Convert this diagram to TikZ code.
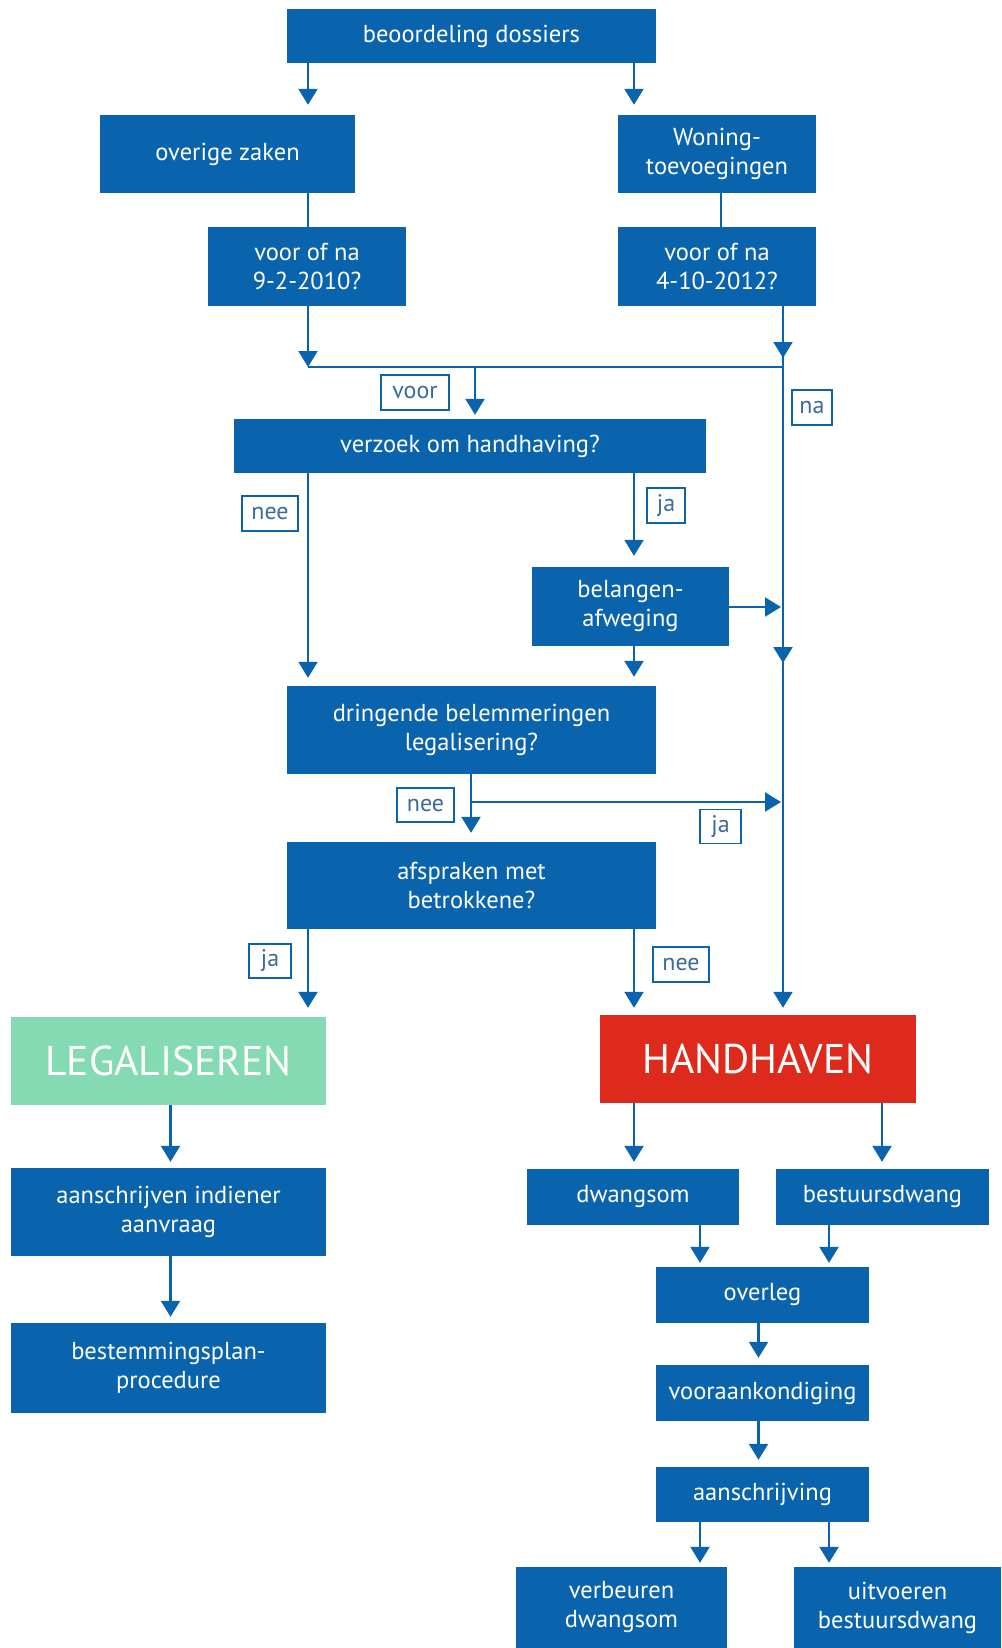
\documentclass[tikz,border=0pt]{standalone}
\usepackage{fontspec}
\setmainfont{PT Sans}
\usetikzlibrary{arrows.meta}
\definecolor{boxblue}{HTML}{0A64AD}
\definecolor{legal}{HTML}{84DAB2}
\definecolor{handred}{HTML}{DD2A1C}
\definecolor{lbltext}{HTML}{3A6A9E}
\tikzset{
  boxnode/.style={fill=boxblue, text=white, inner sep=0pt, align=center,
    font=\fontsize{24.5}{29}\selectfont},
  bignode/.style={inner sep=0pt, text=white, font=\fontsize{41.5}{44}\selectfont},
  lbl/.style={draw=boxblue, line width=1.4pt, fill=white, text=lbltext, inner sep=0pt,
    font=\fontsize{24}{28}\selectfont},
  conn/.style={draw=boxblue, line width=2.2pt},
  arr/.style={conn, -{Triangle[width=19pt,length=16pt]}},
}
\begin{document}
\begin{tikzpicture}[x=1pt,y=-1pt]
\useasboundingbox (0,0) rectangle (1001,1648);
\fill[white] (0,0) rectangle (1001,1648);
% boxes
\node[boxnode, minimum width=369pt, minimum height=54pt] (beo) at (471.5,36) {beoordeling dossiers};
\node[boxnode, minimum width=255pt, minimum height=78pt] (ovz) at (227.5,154) {overige zaken};
\node[boxnode, minimum width=198pt, minimum height=78pt] (won) at (717,154) {Woning-\\toevoegingen};
\node[boxnode, minimum width=198pt, minimum height=79pt] (v1) at (307,266.5) {voor of na\\9-2-2010?};
\node[boxnode, minimum width=198pt, minimum height=79pt] (v2) at (717,266.5) {voor of na\\4-10-2012?};
\node[boxnode, minimum width=472pt, minimum height=54pt] (verz) at (470,446) {verzoek om handhaving?};
\node[boxnode, minimum width=197pt, minimum height=79pt] (bel) at (630.5,606.5) {belangen-\\afweging};
\node[boxnode, minimum width=369pt, minimum height=88pt] (dri) at (471.5,730) {dringende belemmeringen\\legalisering?};
\node[boxnode, minimum width=369pt, minimum height=87pt] (afs) at (471.5,885.5) {afspraken met\\betrokkene?};
\node[bignode, fill=legal, minimum width=315pt, minimum height=88pt] (leg) at (168.5,1061) {LEGALISEREN};
\node[bignode, fill=handred, minimum width=316pt, minimum height=88pt] (han) at (758,1059) {HANDHAVEN};
\node[boxnode, minimum width=315pt, minimum height=88pt] (aan) at (168.5,1212) {aanschrijven indiener\\aanvraag};
\node[boxnode, minimum width=315pt, minimum height=90pt] (bes) at (168.5,1368) {bestemmingsplan-\\procedure};
\node[boxnode, minimum width=212pt, minimum height=56pt] (dwa) at (633,1197) {dwangsom};
\node[boxnode, minimum width=213pt, minimum height=56pt] (bst) at (882.5,1197) {bestuursdwang};
\node[boxnode, minimum width=213pt, minimum height=56pt] (ove) at (762.5,1295) {overleg};
\node[boxnode, minimum width=213pt, minimum height=56pt] (voo) at (762.5,1393) {vooraankondiging};
\node[boxnode, minimum width=213pt, minimum height=55pt] (aas) at (762.5,1494.5) {aanschrijving};
\node[boxnode, minimum width=211pt, minimum height=81pt] (ver) at (621.5,1607.5) {verbeuren\\dwangsom};
\node[boxnode, minimum width=207pt, minimum height=81pt] (uit) at (897.5,1607.5) {uitvoeren\\bestuursdwang};
% column coordinates
\coordinate (cA) at (308,0);
\coordinate (cB) at (634,0);
\coordinate (cR) at (783,0);
\coordinate (cW) at (721,0);
\coordinate (cL) at (170.5,0);
\coordinate (cH) at (882,0);
\coordinate (cD) at (700,0);
\coordinate (cS) at (829,0);
\coordinate (cO) at (758.5,0);
\coordinate (cM2) at (471,0);
% junction points
\coordinate (j1) at (308,367);
\coordinate (j2) at (783,367);
\coordinate (jm) at (475,367);
\coordinate (tipA) at (783,358);
\coordinate (tipB) at (783,663);
\coordinate (hb) at (781,607);
\coordinate (jd) at (471,802);
\coordinate (hd) at (781,802);
% connectors
\draw[arr, shorten >=10pt] (beo.south -| cA) -- (ovz.north -| cA);
\draw[arr, shorten >=10pt] (beo.south -| cB) -- (won.north -| cB);
\draw[conn] (ovz.south -| cA) -- (v1.north -| cA);
\draw[conn] (won.south -| cW) -- (v2.north -| cW);
\draw[arr] (v1.south -| cA) -- (j1);
\draw[conn] (j1) -- (j2);
\draw[arr, shorten >=4pt] (jm) -- (verz.north -| jm);
\draw[arr, shorten >=7pt] (v2.south -| cR) -- (han.north -| cR);
\draw[arr] (v2.south -| cR) -- (tipA);
\draw[arr] (v2.south -| cR) -- (tipB);
\draw[arr, shorten >=8pt] (verz.south -| cA) -- (dri.north -| cA);
\draw[arr, shorten >=11pt] (verz.south -| cB) -- (bel.north -| cB);
\draw[arr, shorten >=9pt] (bel.south -| cB) -- (dri.north -| cB);
\draw[arr] (bel.east |- hb) -- (hb);
\draw[arr, shorten >=9pt] (dri.south -| cM2) -- (afs.north -| cM2);
\draw[arr] (jd) -- (hd);
\draw[arr, shorten >=9pt] (afs.south -| cA) -- (leg.north -| cA);
\draw[arr, shorten >=7pt] (afs.south -| cB) -- (han.north -| cB);
\draw[arr, shorten >=6pt] (leg.south -| cL) -- (aan.north -| cL);
\draw[arr, shorten >=6pt] (aan.south -| cL) -- (bes.north -| cL);
\draw[arr, shorten >=7pt] (han.south -| cB) -- (dwa.north -| cB);
\draw[arr, shorten >=7pt] (han.south -| cH) -- (bst.north -| cH);
\draw[arr, shorten >=4pt] (dwa.south -| cD) -- (ove.north -| cD);
\draw[arr, shorten >=4pt] (bst.south -| cS) -- (ove.north -| cS);
\draw[arr, shorten >=7pt] (ove.south -| cO) -- (voo.north -| cO);
\draw[arr, shorten >=7pt] (voo.south -| cO) -- (aas.north -| cO);
\draw[arr, shorten >=4pt] (aas.south -| cD) -- (ver.north -| cD);
\draw[arr, shorten >=4pt] (aas.south -| cS) -- (uit.north -| cS);
% labels
\node[lbl, minimum width=68pt, minimum height=35pt] (lvoor) at (415,392.5) {voor};
\node[lbl, minimum width=40pt, minimum height=35pt] (lna) at (812,407.5) {na};
\node[lbl, minimum width=56pt, minimum height=35pt] (lnee1) at (270,513.5) {nee};
\node[lbl, minimum width=38pt, minimum height=35pt] (lja1) at (666,505.5) {ja};
\node[lbl, minimum width=57pt, minimum height=34pt] (lnee2) at (425.5,805) {nee};
\node[lbl, minimum width=41pt, minimum height=34pt] (lja2) at (720.5,826.5) {ja};
\node[lbl, minimum width=42pt, minimum height=34pt] (lja3) at (270,961) {ja};
\node[lbl, minimum width=56pt, minimum height=35pt] (lnee3) at (681,964.5) {nee};
\end{tikzpicture}
\end{document}
